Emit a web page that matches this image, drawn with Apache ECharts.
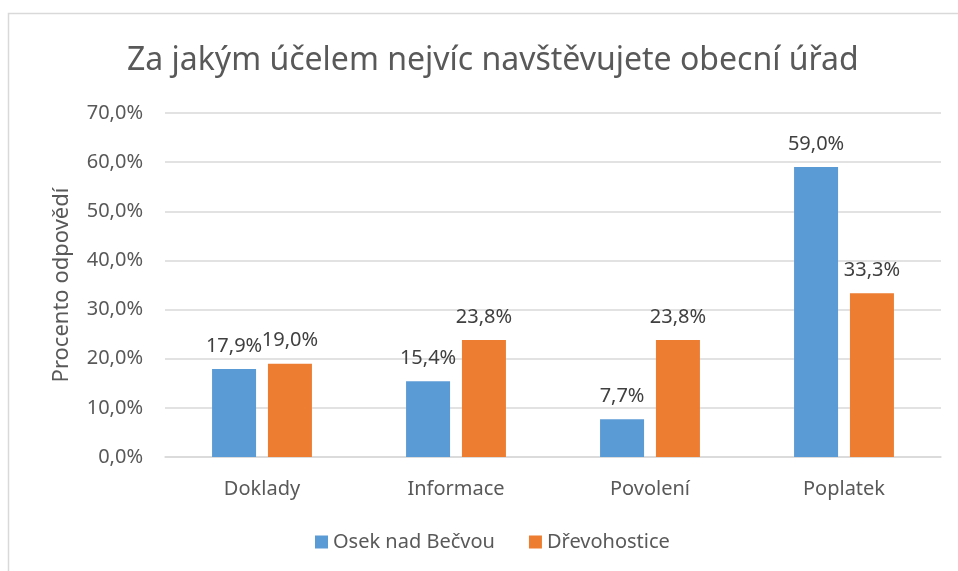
<!DOCTYPE html>
<html><head><meta charset="utf-8">
<script src="https://cdn.jsdelivr.net/npm/echarts@6/dist/echarts.min.js"></script>
<style>html,body{margin:0;padding:0;background:#fff}#c{width:958px;height:571px}</style>
</head><body><div id="c"></div>
<script>
const categories = ['Doklady', 'Informace', 'Povolení', 'Poplatek'];
const osek = [17.9, 15.4, 7.7, 59.0];
const drevohostice = [19.0, 23.8, 23.8, 33.3];
const seriesNames = ['Osek nad Bečvou', 'Dřevohostice'];
const titleText = 'Za jakým účelem nejvíc navštěvujete obecní úřad';
const yAxisName = 'Procento odpovědí';

const FONT = 'Noto Sans';
const fmt = v => v.toFixed(1).replace('.', ',') + '%';
const chart = echarts.init(document.getElementById('c'), null, {renderer: 'canvas'});
const labelCfg = {show: true, position: 'top', distance: 13, color: '#404040', fontSize: 20, fontFamily: FONT,
  formatter: p => fmt(p.value)};
chart.setOption({
  animation: false,
  graphic: [{type: 'rect', shape: {x: 8.5, y: 13.5, width: 1000, height: 1000}, style: {fill: 'none', stroke: '#d9d9d9', lineWidth: 1.5}}],
  title: {text: titleText, left: 122, top: 40, textStyle: {color: '#595959', fontSize: 32, fontWeight: 'normal', fontFamily: FONT}},
  legend: {bottom: 14, left: 310, itemWidth: 13, itemHeight: 13, itemGap: 34, icon: 'rect',
    textStyle: {color: '#595959', fontSize: 20, fontFamily: FONT}},
  grid: {left: 165, right: 17, top: 113, bottom: 114},
  xAxis: {type: 'category', data: categories, axisTick: {show: false},
    axisLine: {lineStyle: {color: '#d9d9d9', width: 1.5}},
    axisLabel: {color: '#595959', fontSize: 20, fontFamily: FONT, margin: 22}},
  yAxis: {type: 'value', min: 0, max: 70, interval: 10, name: yAxisName, nameLocation: 'middle', nameGap: 92,
    nameTextStyle: {color: '#595959', fontSize: 22, fontFamily: FONT},
    axisLabel: {color: '#595959', fontSize: 20, fontFamily: FONT, margin: 22, formatter: v => v.toFixed(1).replace('.', ',') + '%'},
    splitLine: {lineStyle: {color: '#d9d9d9', width: 1.5}}},
  series: [
    {name: seriesNames[0], type: 'bar', data: osek, barWidth: 44, barGap: '27%', itemStyle: {color: '#5b9bd5'}, label: labelCfg},
    {name: seriesNames[1], type: 'bar', data: drevohostice, barWidth: 44, itemStyle: {color: '#ed7d31'}, label: labelCfg}
  ]
});
</script></body></html>
